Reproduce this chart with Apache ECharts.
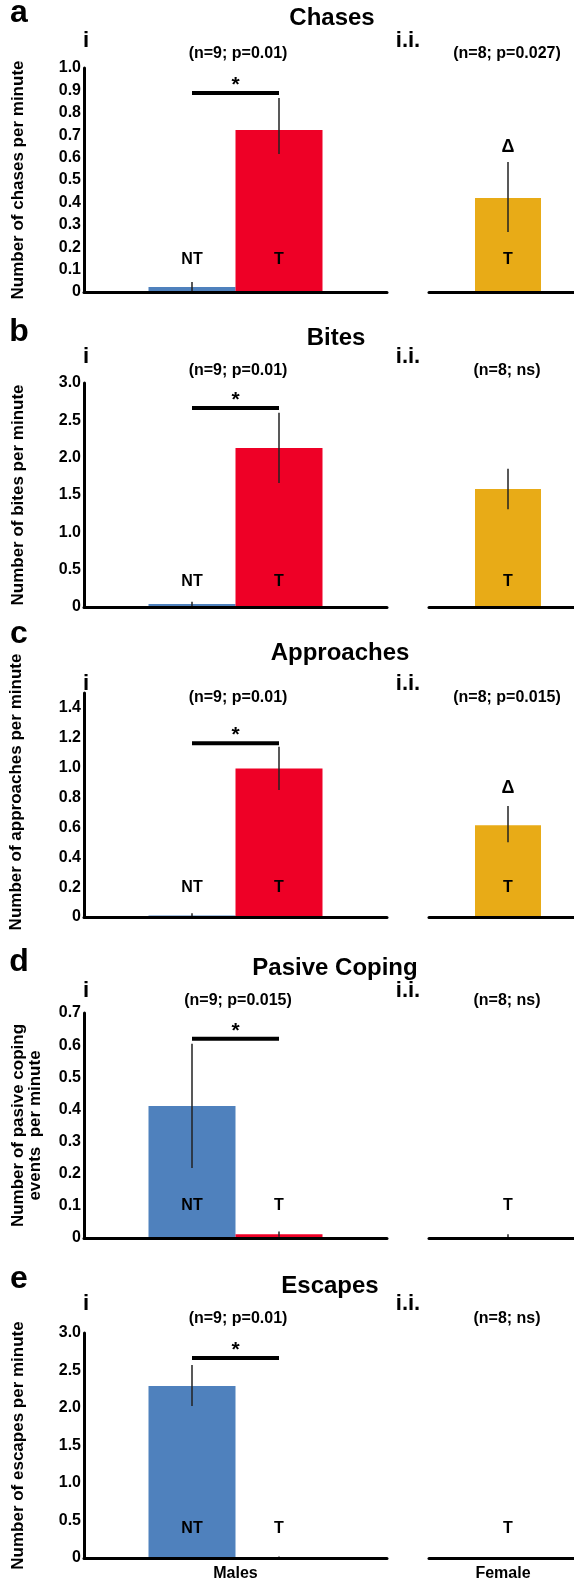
<!DOCTYPE html>
<html><head><meta charset="utf-8">
<script src="https://cdn.jsdelivr.net/npm/echarts@6/dist/echarts.min.js"></script>
<style>html,body{margin:0;padding:0;background:#fff}#c{width:574px;height:1581px}</style>
</head><body><div id="c"></div><script>
// ---------- data ----------
const panelLetters = ['a','b','c','d','e'];
const panelTitles = ['Chases','Bites','Approaches','Pasive Coping','Escapes'];
const yAxisNames = ['Number of chases per minute','Number of bites per minute','Number of approaches per minute','Number of pasive coping\nevents  per minute','Number of escapes per minute'];
const maleStats = ['(n=9; p=0.01)','(n=9; p=0.01)','(n=9; p=0.01)','(n=9; p=0.015)','(n=9; p=0.01)'];
const femaleStats = ['(n=8; p=0.027)','(n=8; ns)','(n=8; p=0.015)','(n=8; ns)','(n=8; ns)'];
const sexNames = ['Males','Female'];
const groupNames = ['NT','T'];
const yMax = [1.0, 3.0, 1.5, 0.7, 3.0];
const yInterval = [0.1, 0.5, 0.2, 0.1, 0.5];
const ntMean = [0.022, 0.04, 0.01, 0.411, 2.293];
const ntLow  = [0.0, 0.01, 0.0, 0.218, 2.027];
const ntHigh = [0.045, 0.07, 0.025, 0.604, 2.573];
const tMean = [0.723, 2.13, 0.994, 0.012, 0];
const tLow  = [0.616, 1.66, 0.85, 0.004, 0];
const tHigh = [0.866, 2.6, 1.14, 0.02, 0.02];
const femMean = [0.42, 1.58, 0.615, 0.003, 0];
const femLow  = [0.268, 1.31, 0.5, 0, 0];
const femHigh = [0.58, 1.85, 0.744, 0.012, 0];
const sigLevel = [0.888, 2.665, 1.163, 0.62, 2.667];
const groupLabelLevel = [0.143, 0.335, 0.2, 0.1, 0.39];
const deltaLevel = [0.647, null, 0.865, null, null];

// ---------- layout / style ----------
const FONT = '"Liberation Sans", Arial, Helvetica, sans-serif';
const BLUE = '#4f81bd', RED = '#ee0026', YEL = '#e8ab17';
const gridTops = [68, 383, 693, 1013, 1333];
const gridHeights = [224, 224, 224, 225, 225];
const LEFT_X = 84, LEFT_W = 303, RIGHT_X = 429, RIGHT_W = 158;
const BAR_W = 87, FEM_W = 66;
const nameGaps = [57, 57, 59, 40, 57];
const namePadding = [0, 0, [0, 0, 0, 26], 0, 0];
const letterY = [13, 332, 634, 962, 1279];
const titleX = [332, 336, 340, 335, 330];
const titleY = [18, 338, 653, 968, 1286];
const romanY = [41, 357, 684, 991, 1304];
const statY = [54, 371, 698, 1001, 1319];

function txt(x, y, text, size, extra) {
  return Object.assign({type:'text', x:x, y:y, silent:true, style:{text:text, fill:'#000',
    font:'bold ' + size + 'px ' + FONT, fontSize:size, fontWeight:'bold', fontFamily:FONT,
    textAlign:'center', textVerticalAlign:'middle', align:'center', verticalAlign:'middle'}}, extra||{});
}

const grids = [], xAxes = [], yAxes = [], series = [], graphics = [];
const labelStyle = {fontSize:16, fontWeight:'bold', color:'#000', fontFamily:FONT};

for (let p = 0; p < 5; p++) {
  const L = 2*p, R = 2*p+1;
  grids.push({left:LEFT_X, top:gridTops[p], width:LEFT_W, height:gridHeights[p], outerBoundsMode:'none', containLabel:false});
  grids.push({left:RIGHT_X, top:gridTops[p], width:RIGHT_W, height:gridHeights[p], outerBoundsMode:'none', containLabel:false});
  [0,1].forEach(function(s){
    xAxes.push({type:'category', gridIndex:2*p+s, data:[sexNames[s]], z:5,
      axisLine:{lineStyle:{color:'#000', width:3}}, axisTick:{show:false},
      axisLabel:Object.assign({show:p===4, margin:8, padding: s===1 ? [0, 10, 0, 0] : 0}, labelStyle)});
  });
  yAxes.push({type:'value', gridIndex:L, min:0, max:yMax[p], interval:yInterval[p], z:5,
    axisLine:{show:true, lineStyle:{color:'#000', width:3}}, axisTick:{show:false}, splitLine:{show:false},
    axisLabel:Object.assign({margin:3, showMaxLabel: p!==2, formatter:function(v){return v===0?'0':v.toFixed(1);}}, labelStyle),
    name:yAxisNames[p], nameLocation:'middle', nameRotate:90, nameGap:nameGaps[p],
    nameTextStyle:Object.assign({}, labelStyle, {fontSize:17, lineHeight:17, padding:namePadding[p]})});
  yAxes.push({type:'value', gridIndex:R, min:0, max:yMax[p], interval:yInterval[p], show:false});

  // bars
  series.push({type:'bar', xAxisIndex:L, yAxisIndex:L, data:[ntMean[p]], barWidth:BAR_W, barGap:'0%', itemStyle:{color:BLUE}, z:2});
  series.push({type:'bar', xAxisIndex:L, yAxisIndex:L, data:[tMean[p]], barWidth:BAR_W, barGap:'0%', itemStyle:{color:RED}, z:2});
  series.push({type:'bar', xAxisIndex:R, yAxisIndex:R, data:[femMean[p]], barWidth:FEM_W, itemStyle:{color:YEL}, z:2});

  // male error bars
  series.push({type:'custom', xAxisIndex:L, yAxisIndex:L, z:3, encode:{x:0, y:[1,2]},
    data:[[0, ntLow[p], ntHigh[p]], [0, tLow[p], tHigh[p]]],
    renderItem:function(params, api){
      const off = (params.dataIndex - 0.5) * BAR_W;
      const a = api.coord([0, api.value(1)]), b = api.coord([0, api.value(2)]);
      return {type:'line', shape:{x1:a[0]+off, y1:a[1], x2:a[0]+off, y2:b[1]}, style:{stroke:'#222', lineWidth:1.5}};
    }});
  // female error bar
  if (femHigh[p] > femLow[p]) {
    series.push({type:'custom', xAxisIndex:R, yAxisIndex:R, z:3, encode:{x:0, y:[1,2]},
      data:[[0, femLow[p], femHigh[p]]],
      renderItem:function(params, api){
        const a = api.coord([0, api.value(1)]), b = api.coord([0, api.value(2)]);
        return {type:'line', shape:{x1:a[0], y1:a[1], x2:a[0], y2:b[1]}, style:{stroke:'#222', lineWidth:1.5}};
      }});
  }
  // significance bar + star
  series.push({type:'custom', xAxisIndex:L, yAxisIndex:L, z:4, encode:{x:0, y:1},
    data:[[0, sigLevel[p]]],
    renderItem:function(params, api){
      const c = api.coord([0, api.value(1)]);
      return {type:'group', children:[
        {type:'line', shape:{x1:c[0]-BAR_W/2, y1:c[1], x2:c[0]+BAR_W/2, y2:c[1]}, style:{stroke:'#000', lineWidth:4}},
        txt(c[0], c[1]-8, '*', 21)
      ]};
    }});
  // group labels NT / T
  series.push({type:'custom', xAxisIndex:L, yAxisIndex:L, z:4, encode:{x:0, y:1},
    data:[[0, groupLabelLevel[p]], [0, groupLabelLevel[p]]],
    renderItem:function(params, api){
      const c = api.coord([0, api.value(1)]);
      return txt(c[0] + (params.dataIndex - 0.5) * BAR_W, c[1], groupNames[params.dataIndex], 16);
    }});
  // female label T (+ delta)
  const fData = [[0, groupLabelLevel[p], 0]];
  if (deltaLevel[p] !== null) fData.push([0, deltaLevel[p], 1]);
  series.push({type:'custom', xAxisIndex:R, yAxisIndex:R, z:4, encode:{x:0, y:1},
    data:fData,
    renderItem:function(params, api){
      const c = api.coord([0, api.value(1)]);
      return txt(c[0], c[1], api.value(2) === 1 ? 'Δ' : groupNames[1], api.value(2) === 1 ? 18 : 16);
    }});

  // header texts
  graphics.push(txt(19, letterY[p], panelLetters[p], 32));
  graphics.push(txt(titleX[p], titleY[p], panelTitles[p], 24));
  graphics.push(txt(86, romanY[p], 'i', 22));
  graphics.push(txt(408, romanY[p], 'i.i.', 22));
  graphics.push(txt(238, statY[p], maleStats[p], 16));
  graphics.push(txt(507, statY[p], femaleStats[p], 16));
}

const chart = echarts.init(document.getElementById('c'), null, {renderer:'canvas'});
chart.setOption({
  animation:false,
  backgroundColor:'#fff',
  textStyle:{fontFamily:FONT},
  grid:grids, xAxis:xAxes, yAxis:yAxes, series:series,
  graphic:{elements:graphics}
});
</script></body></html>
